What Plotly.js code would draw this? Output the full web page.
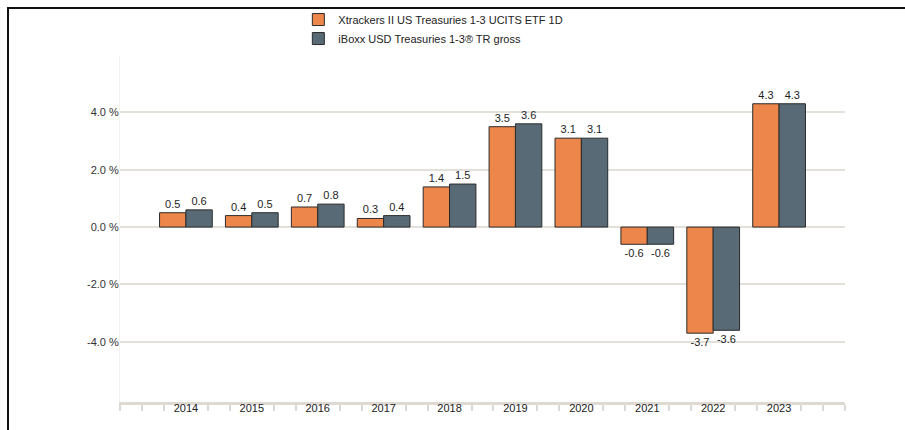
<!DOCTYPE html>
<html>
<head>
<meta charset="utf-8">
<script src="https://cdn.plot.ly/plotly-3.0.1.min.js"></script>
<style>
  html, body { margin: 0; padding: 0; background: #fff; }
  #frame { position: absolute; left: 7px; top: 7px; width: 898px; height: 423px;
           border-left: 2px solid #111; border-top: 2px solid #111; }
  #chart { position: absolute; left: 0; top: 0; width: 905px; height: 430px; }
</style>
</head>
<body>
<div id="frame"></div>
<div id="chart"></div>
<script>
const years = ["2014","2015","2016","2017","2018","2019","2020","2021","2022","2023"];
const etfValues = [0.5, 0.4, 0.7, 0.3, 1.4, 3.5, 3.1, -0.6, -3.7, 4.3];
const indexValues = [0.6, 0.5, 0.8, 0.4, 1.5, 3.6, 3.1, -0.6, -3.6, 4.3];
const seriesNames = ["Xtrackers II US Treasuries 1-3 UCITS ETF 1D", "iBoxx USD Treasuries 1-3\u00AE TR gross"];
const yTickVals = [-4, -2, 0, 2, 4, 6];
const yTickText = ["-4.0 %", "-2.0 %", "0.0 %", "2.0 %", "4.0 %", ""];

const xPos = years.map((_, i) => i);
const minorVals = [-1];
for (let i = -1; i < years.length; i++) { minorVals.push(i + 1/3, i + 2/3); }
minorVals.push(years.length);

const fmt = v => v.toFixed(1);
const common = {
  type: 'bar',
  x: xPos,
  textposition: 'outside',
  cliponaxis: false,
  textfont: { family: 'Liberation Sans, Arial, sans-serif', size: 11, color: '#1e1e1e' },
  hoverinfo: 'none'
};
const traces = [
  Object.assign({}, common, {
    name: seriesNames[0], y: etfValues, text: etfValues.map(fmt),
    marker: { color: '#ED864B', line: { color: '#2b2b2b', width: 1 } }
  }),
  Object.assign({}, common, {
    name: seriesNames[1], y: indexValues, text: indexValues.map(fmt),
    marker: { color: '#586A75', line: { color: '#2b2b2b', width: 1 } }
  })
];

const layout = {
  width: 905, height: 430,
  margin: { l: 120, r: 60, t: 55, b: 28, autoexpand: false },
  paper_bgcolor: 'rgba(0,0,0,0)',
  plot_bgcolor: 'rgba(0,0,0,0)',
  font: { family: 'Liberation Sans, Arial, sans-serif', size: 11, color: '#333' },
  barmode: 'group',
  bargap: 0.2,
  bargroupgap: 0,
  showlegend: true,
  legend: {
    x: 0.246, xanchor: 'left', y: 1.144, yanchor: 'top',
    orientation: 'v', bgcolor: 'rgba(0,0,0,0)',
    font: { size: 11, color: '#222' },
    itemwidth: 30, tracegroupgap: 0
  },
  xaxis: {
    type: 'linear',
    range: [-1, years.length],
    tickmode: 'array', tickvals: xPos, ticktext: years,
    ticks: '', showgrid: false, zeroline: false,
    showline: true, linecolor: '#dedad3', linewidth: 3,
    ticklabelstandoff: -6,
    tickfont: { size: 11, color: '#222' },
    minor: { tickmode: 'array', tickvals: minorVals, ticks: 'outside', ticklen: 6, tickwidth: 2, tickcolor: '#dedad3', showgrid: false }
  },
  yaxis: {
    range: [-6.1, 6.0],
    tickmode: 'array', tickvals: yTickVals, ticktext: yTickText,
    showgrid: true, gridcolor: '#e3e0da', gridwidth: 2,
    zeroline: true, zerolinecolor: '#e3e0da', zerolinewidth: 2,
    showline: true, linecolor: '#f4f3f0', linewidth: 1,
    ticks: '', ticklabelstandoff: -2,
    tickfont: { size: 11, color: '#333' }
  }
};

Plotly.newPlot('chart', traces, layout, { displayModeBar: false, staticPlot: true });
</script>
</body>
</html>
